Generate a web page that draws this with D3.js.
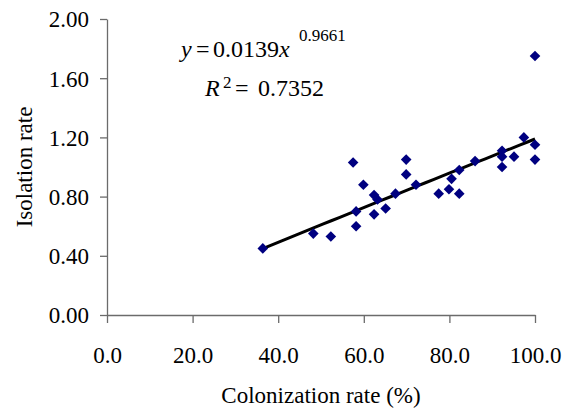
<!DOCTYPE html>
<html>
<head>
<meta charset="utf-8">
<script src="https://cdn.jsdelivr.net/npm/d3@7"></script>
</head>
<body style="margin:0; background:#fff">
<div id="vis"></div>
<script>
var w = 570;
var h = 414;

// colonization rate (%) and isolation rate
var colonization = [36.4, 48.2, 52.3, 57.5, 58.2, 58.2, 59.9, 62.4, 63.2, 62.4,
                    65.1, 67.4, 69.9, 69.9, 72.2, 77.5, 79.9, 80.5, 82.3, 82.3,
                    86.0, 92.3, 92.3, 92.3, 95.1, 97.4, 100, 100, 100];
var isolation = [0.45, 0.55, 0.53, 1.03, 0.70, 0.60, 0.88, 0.81, 0.78, 0.68,
                 0.72, 0.82, 1.05, 0.95, 0.88, 0.82, 0.85, 0.92, 0.82, 0.98,
                 1.04, 1.11, 1.07, 1.00, 1.07, 1.20, 1.15, 1.05, 1.75];

var xTicks = [0, 20, 40, 60, 80, 100];
var yTicks = [0, 0.4, 0.8, 1.2, 1.6, 2.0];

// power trendline y = a * x^b
var fitCoef = [0.0139, 0.9661];
var fitR2 = 0.7352;

var serif = "'Liberation Serif'";
var margin = {top: 19, right: 35, bottom: 99, left: 107};

var svg = d3.select('#vis')
  .append('svg')
    .attr('width', w)
    .attr('height', h);

var x = d3.scaleLinear()
  .domain([0, 100])
  .range([margin.left, w - margin.right]);

var y = d3.scaleLinear()
  .domain([0, 2])
  .range([h - margin.bottom, margin.top]);

// x axis
var xAxis = svg.append('g')
  .attr('transform', 'translate(0,' + y(0) + ')')
  .call(d3.axisBottom(x).tickValues(xTicks).tickSizeInner(8).tickSizeOuter(0)
    .tickFormat(d3.format('.1f')));

xAxis.selectAll('text')
  .attr('y', 48)
  .attr('dy', 0);

// y axis
var yAxis = svg.append('g')
  .attr('transform', 'translate(' + x(0) + ',0)')
  .call(d3.axisLeft(y).tickValues(yTicks).tickSizeInner(7).tickSizeOuter(0).tickPadding(11)
    .tickFormat(d3.format('.2f')));

yAxis.selectAll('text')
  .attr('dy', '0.34em');

svg.selectAll('.tick text')
  .style('font-family', serif)
  .style('font-size', '23px')
  .style('fill', '#000');

svg.selectAll('.domain, .tick line')
  .attr('stroke', '#6b6b6b')
  .attr('stroke-width', 1.3);

// trendline over the range of the data
var xs = d3.range(d3.min(colonization), 100, 2);
xs.push(100);

var line = d3.line()
  .x(function(d) { return x(d); })
  .y(function(d) { return y(fitCoef[0] * Math.pow(d, fitCoef[1])); });

svg.append('path')
  .datum(xs)
  .attr('d', line)
  .style('fill', 'none')
  .style('stroke', '#000')
  .style('stroke-width', 3);

// points
svg.selectAll('.pt')
  .data(colonization)
  .enter()
  .append('path')
    .attr('class', 'pt')
    .attr('transform', function(d, i) {
      return 'translate(' + x(d) + ',' + y(isolation[i]) + ')';
    })
    .attr('d', d3.symbol(d3.symbolDiamond2, 72))
    .style('fill', '#000080');

// equation, pieces placed like the excel label
var eq = svg.append('text')
  .attr('y', 57)
  .style('font-family', serif)
  .style('font-size', '24px');
eq.append('tspan').attr('x', 181).style('font-style', 'italic').text('y');
eq.append('tspan').attr('x', 196).text('=');
eq.append('tspan').attr('x', 213).text(fitCoef[0]);
eq.append('tspan').style('font-style', 'italic').text('x');
eq.append('tspan')
  .attr('x', 299)
  .attr('dy', -16)
  .style('font-size', '17px')
  .text(fitCoef[1]);

var r2 = svg.append('text')
  .attr('y', 96)
  .style('font-family', serif)
  .style('font-size', '24px');
r2.append('tspan').attr('x', 205).style('font-style', 'italic').text('R');
r2.append('tspan').attr('x', 223).attr('dy', -8).style('font-size', '17px').text('2');
r2.append('tspan').attr('x', 235).attr('dy', 8).text('=');
r2.append('tspan').attr('x', 258).text(fitR2);

// axis titles
svg.append('text')
  .attr('x', (x(0) + x(100)) / 2)
  .attr('y', 403)
  .attr('text-anchor', 'middle')
  .style('font-family', serif)
  .style('font-size', '23px')
  .text('Colonization rate (%)');

svg.append('text')
  .attr('transform', 'translate(32,' + (y(0) + y(2)) / 2 + ') rotate(-90)')
  .attr('text-anchor', 'middle')
  .style('font-family', serif)
  .style('font-size', '23px')
  .text('Isolation rate');
</script>
</body>
</html>
